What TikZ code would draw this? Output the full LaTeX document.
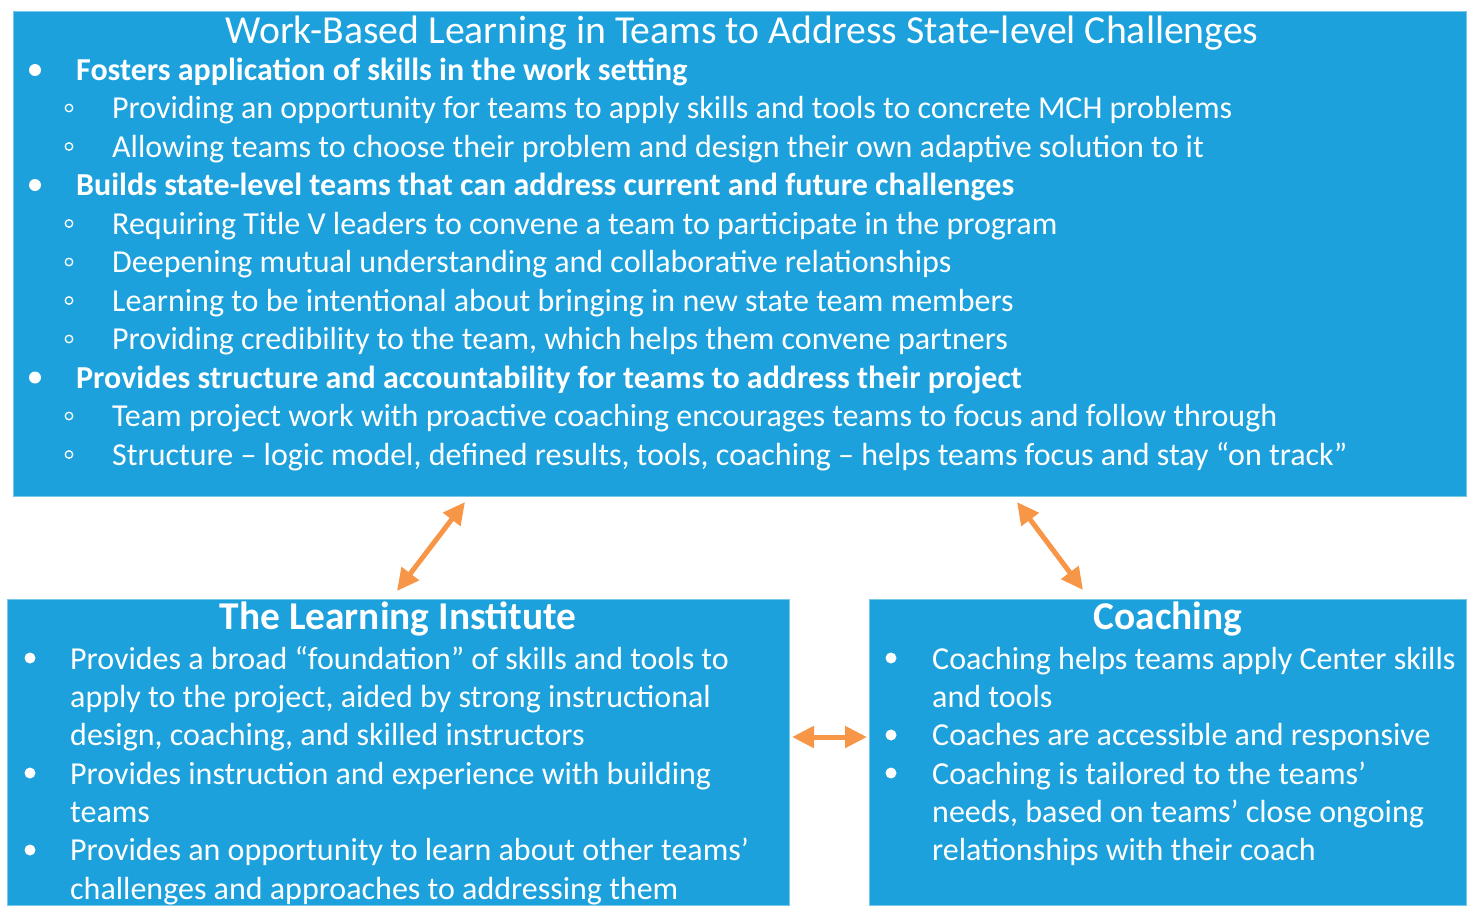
\documentclass[tikz,border=0pt]{standalone}
\usepackage{fontspec}
\setmainfont{Carlito}
\usetikzlibrary{arrows.meta}
\definecolor{boxblue}{RGB}{28,161,220}
\definecolor{boxedge}{RGB}{120,200,236}
\definecolor{arroworange}{RGB}{247,150,70}
\begin{document}
\begin{tikzpicture}[x=1pt,y=-1pt,
 panel/.style={fill=boxblue, draw=boxedge, line width=0.8pt, inner sep=0pt, anchor=north west},
 txt/.style={anchor=base west, inner sep=0pt, text=white, font=\fontsize{32}{38}\selectfont},
 btxt/.style={anchor=base west, inner sep=0pt, text=white, font=\fontsize{32}{38}\selectfont\bfseries},
 ttl/.style={anchor=base, inner sep=0pt, text=white, font=\fontsize{39.7}{46}\selectfont},
 bttl/.style={anchor=base, inner sep=0pt, text=white, font=\fontsize{39.4}{46}\selectfont\bfseries},
 dot/.style={fill=white, circle, inner sep=0pt, minimum size=12pt},
 sdot/.style={fill=white, circle, inner sep=0pt, minimum size=11pt},
 ring/.style={draw=white, line width=1.3pt, circle, inner sep=0pt, minimum size=7.5pt},
 link/.style={draw=arroworange, line width=5pt, {Triangle[width=21pt,length=22pt]}-{Triangle[width=21pt,length=22pt]}},
]
\useasboundingbox (0,0) rectangle (1471,905);
% panels
\node[panel, minimum width=1453pt, minimum height=485pt] (top) at (13,11) {};
\node[panel, minimum width=782pt, minimum height=306pt] (left) at (7,599) {};
\node[panel, minimum width=597pt, minimum height=306pt] (right) at (869,599) {};
% top panel
\node[ttl] (ttop) at (742,43) {Work-Based Learning in Teams to Address State-level Challenges};
\node[dot] (b1) at (35,70) {};
\node[btxt] (h1) at (76,80) {Fosters application of skills in the work setting};
\node[ring] (r11) at (69,108) {};
\node[txt] (l11) at (112,118.5) {Providing an opportunity for teams to apply skills and tools to concrete MCH problems};
\node[ring] (r12) at (69,146.5) {};
\node[txt] (l12) at (112,157) {Allowing teams to choose their problem and design their own adaptive solution to it};
\node[dot] (b2) at (35,185) {};
\node[btxt] (h2) at (76,195.5) {Builds state-level teams that can address current and future challenges};
\node[ring] (r21) at (69,223.5) {};
\node[txt] (l21) at (112,234) {Requiring Title V leaders to convene a team to participate in the program};
\node[ring] (r22) at (69,262) {};
\node[txt] (l22) at (112,272.5) {Deepening mutual understanding and collaborative relationships};
\node[ring] (r23) at (69,300.5) {};
\node[txt] (l23) at (112,311) {Learning to be intentional about bringing in new state team members};
\node[ring] (r24) at (69,339) {};
\node[txt] (l24) at (112,349.5) {Providing credibility to the team, which helps them convene partners};
\node[dot] (b3) at (35,377.5) {};
\node[btxt] (h3) at (76,388) {Provides structure and accountability for teams to address their project};
\node[ring] (r31) at (69,416) {};
\node[txt] (l31) at (112,426.5) {Team project work with proactive coaching encourages teams to focus and follow through};
\node[ring] (r32) at (69,454.5) {};
\node[txt] (l32) at (112,465) {Structure – logic model, defined results, tools, coaching – helps teams focus and stay “on track”};
% left panel
\node[bttl] (tleft) at (398,629.5) {The Learning Institute};
\node[sdot] (lb1) at (30,658) {};
\node[txt] (ll1) at (70,669) {Provides a broad “foundation” of skills and tools to};
\node[txt] (ll2) at (70,707.3) {apply to the project, aided by strong instructional};
\node[txt] (ll3) at (70,745.6) {design, coaching, and skilled instructors};
\node[sdot] (lb2) at (30,773) {};
\node[txt] (ll4) at (70,784) {Provides instruction and experience with building};
\node[txt] (ll5) at (70,822.3) {teams};
\node[sdot] (lb3) at (30,850) {};
\node[txt] (ll6) at (70,860.6) {Provides an opportunity to learn about other teams’};
\node[txt] (ll7) at (70,899) {challenges and approaches to addressing them};
% right panel
\node[bttl] (tright) at (1168,629.5) {Coaching};
\node[sdot] (rb1) at (891,658) {};
\node[txt] (rl1) at (932,669) {Coaching helps teams apply Center skills};
\node[txt] (rl2) at (932,707.3) {and tools};
\node[sdot] (rb2) at (891,735) {};
\node[txt] (rl3) at (932,745.6) {Coaches are accessible and responsive};
\node[sdot] (rb3) at (891,773) {};
\node[txt] (rl4) at (932,784) {Coaching is tailored to the teams’};
\node[txt] (rl5) at (932,822.3) {needs, based on teams’ close ongoing};
\node[txt] (rl6) at (932,860.6) {relationships with their coach};
% connectors
\coordinate (a1s) at (465,502);
\coordinate (a1e) at (397,591);
\coordinate (a2s) at (1017,502);
\coordinate (a2e) at (1083,590);
\coordinate (a3s) at (792,737);
\coordinate (a3e) at (867,737);
\draw[link] (a1s) -- (a1e);
\draw[link] (a2s) -- (a2e);
\draw[link] (a3s) -- (a3e);
\end{tikzpicture}
\end{document}
